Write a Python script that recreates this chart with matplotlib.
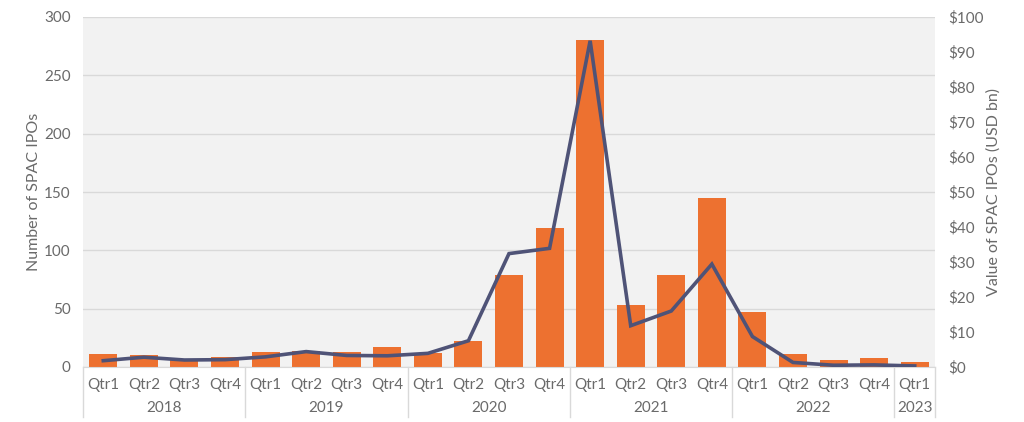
import matplotlib.pyplot as plt
import matplotlib.transforms as mtransforms
import numpy as np

plt.rcParams['font.family'] = ['Lato', 'DejaVu Sans']

years = ['2018', '2019', '2020', '2021', '2022', '2023']
quarters_per_year = [4, 4, 4, 4, 4, 1]
quarter_labels = ['Qtr1', 'Qtr2', 'Qtr3', 'Qtr4'] * 5 + ['Qtr1']

# number of SPAC IPOs per quarter (left axis)
ipo_count = [11, 10, 7, 9,
             13, 14, 13, 17,
             12, 22, 79, 119,
             280, 53, 79, 145,
             47, 11, 6, 8,
             4]
# value of SPAC IPOs in USD bn (right axis)
ipo_value = [1.8, 2.8, 2.0, 2.1,
             2.9, 4.4, 3.3, 3.2,
             3.9, 7.5, 32.4, 33.9,
             93.2, 11.8, 16.0, 29.4,
             8.7, 1.3, 0.5, 0.6,
             0.3]

grey = '#6a6a6a'
orange = '#ED7130'
navy = '#4F5377'
sep = '#d9d9d9'
fs = 11

x = np.arange(len(ipo_count))

fig = plt.figure(figsize=(10.24, 4.22), dpi=100)
ax = fig.add_axes([83 / 1024, 1 - 367 / 422, 852 / 1024, 350 / 422])
ax.set_facecolor('#f2f2f2')
ax.bar(x, ipo_count, width=0.69, color=orange, zorder=2)
ax.set_xlim(-0.5, len(x) - 0.5)
ax.set_ylim(0, 300)
ax.set_yticks(range(0, 301, 50))
ax.grid(axis='y', color='#d9d9d9', lw=1, zorder=0)
ax.set_axisbelow(True)
for s in ['top', 'left', 'right']:
    ax.spines[s].set_visible(False)
ax.spines['bottom'].set_color(sep)
ax.tick_params(axis='y', length=0, pad=9, labelsize=fs, labelcolor=grey)
ax.tick_params(axis='x', length=0, pad=8, labelsize=fs, labelcolor=grey)
ax.set_xticks(x)
ax.set_xticklabels(quarter_labels)
ax.set_ylabel('Number of SPAC IPOs', fontsize=11.5, color=grey, labelpad=2)

ax2 = ax.twinx()
ax2.plot(x, ipo_value, color=navy, lw=2.6, zorder=3, solid_joinstyle='miter')
ax2.set_ylim(0, 100)
ax2.set_yticks(range(0, 101, 10))
ax2.set_yticklabels([f'${v}' for v in range(0, 101, 10)])
for s in ax2.spines.values():
    s.set_visible(False)
ax2.tick_params(axis='y', length=0, pad=9.5, labelsize=fs, labelcolor=grey)
ax2.set_ylabel('Value of SPAC IPOs (USD bn)', fontsize=11.5, color=grey, labelpad=2)

# two-level category axis: year labels and separators
trans = mtransforms.blended_transform_factory(ax.transData, ax.transAxes)
start = 0
bounds = [-0.5]
for yr, n in zip(years, quarters_per_year):
    mid = start + (n - 1) / 2
    ax.text(mid, -0.117, yr, transform=trans, ha='center', va='center',
            fontsize=fs, color=grey)
    start += n
    bounds.append(start - 0.5)
for b in bounds:
    ax.plot([b, b], [0, -0.143], transform=trans, color=sep, lw=1, clip_on=False)

fig.savefig('out.png', dpi=100)
